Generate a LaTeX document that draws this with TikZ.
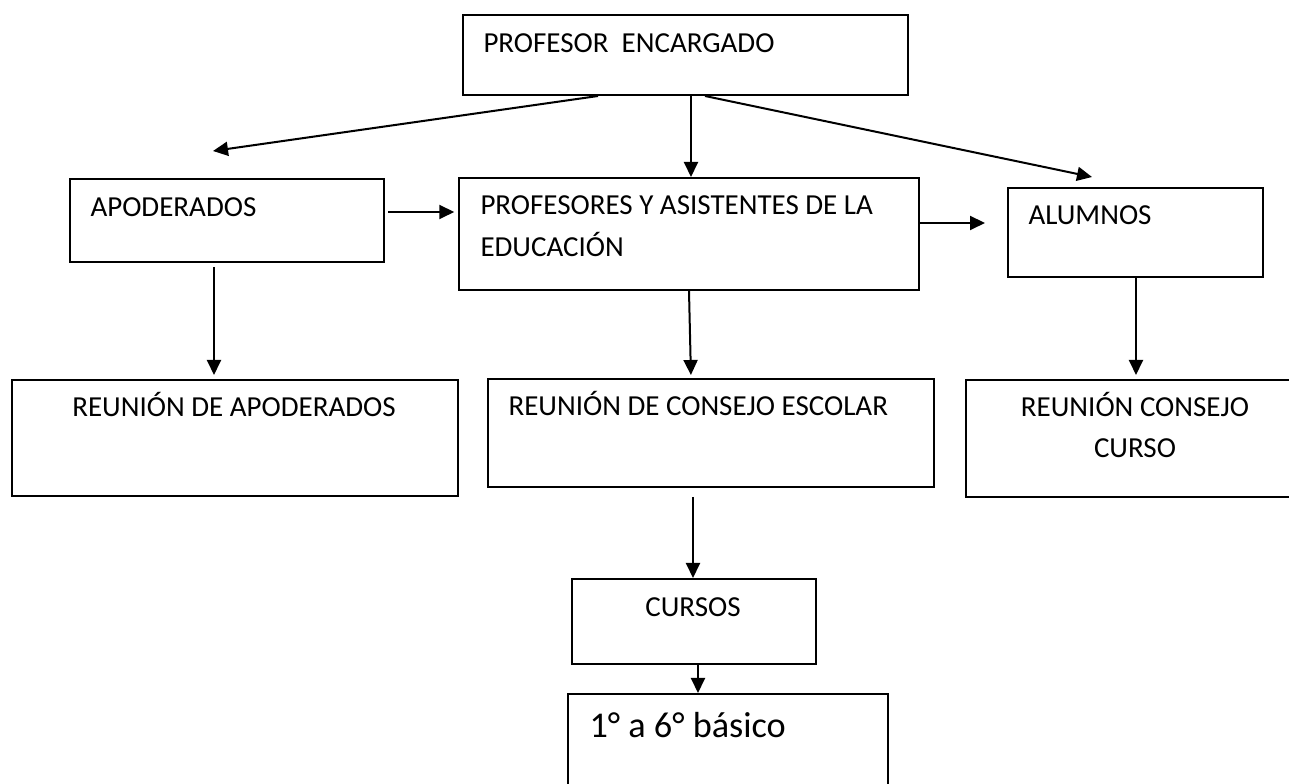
\documentclass[tikz,border=0pt]{standalone}
\usepackage{fontspec}
\setmainfont{Carlito}
\usetikzlibrary{arrows.meta}
\usetikzlibrary{positioning}

\tikzset{
    box/.style={draw, line width=0.8pt, anchor=north west, inner sep=0pt},
    txt/.style={anchor=base west, inner sep=0pt, font=\fontsize{11.6}{14}\selectfont},
    link/.style={line width=0.8pt, -{Triangle[length=6pt,width=5.6pt]}},
}

\begin{document}
\begin{tikzpicture}[x=0.4pt,y=-0.4pt]
    \clip (0,0) rectangle (1289,784);
    \fill[white] (0,0) rectangle (1289,784);
    % boxes
    \node[box, minimum width=178pt, minimum height=32pt] (enc) at (462,14) {};
    \node[box, minimum width=125.6pt, minimum height=33.2pt] (apo) at (69,178) {};
    \node[box, minimum width=184pt, minimum height=44.8pt] (prof) at (458,177) {};
    \node[box, minimum width=102pt, minimum height=35.6pt] (alu) at (1007,187) {};
    \node[box, minimum width=178.4pt, minimum height=46.4pt] (rapo) at (11,379) {};
    \node[box, minimum width=178.4pt, minimum height=43.2pt] (resc) at (487,378) {};
    \node[box, minimum width=136pt, minimum height=46.8pt] (rcur) at (965,379) {};
    \node[box, minimum width=97.6pt, minimum height=34pt] (cur) at (571,578) {};
    \node[box, minimum width=128pt, minimum height=48pt] (bas) at (567,693) {};
    % texts
    \node[txt] (tEnc) at (483,53) {PROFESOR~ ENCARGADO};
    \node[txt] (tApo) at (90,217) {APODERADOS};
    \node[txt] (tProf1) at (480,215) {PROFESORES Y ASISTENTES DE LA};
    \node[txt] (tProf2) at (480,257) {EDUCACIÓN};
    \node[txt] (tAlu) at (1028,225) {ALUMNOS};
    \node[txt, anchor=base] (tRapo) at (234,417) {REUNIÓN DE APODERADOS};
    \node[txt] (tResc) at (508,416) {REUNIÓN DE CONSEJO ESCOLAR};
    \node[txt, anchor=base] (tRcur1) at (1135,417) {REUNIÓN CONSEJO};
    \node[txt, anchor=base] (tRcur2) at (1135,458) {CURSO};
    \node[txt, anchor=base] (tCur) at (693,617) {CURSOS};
    \node[txt, font=\fontsize{14.5}{17}\selectfont] (tBas) at (589,738) {1° a 6° básico};
    % arrows
    \coordinate (tipApo) at (213,151);
    \coordinate (tipAlu) at (1092,177);
    \draw[link] (598,0 |- enc.south) -- (tipApo);
    \draw[link] (691,0 |- enc.south) -- (691,0 |- prof.north);
    \draw[link] (705,0 |- enc.south) -- (tipAlu);
    \draw[link, shorten <=1.2pt, shorten >=1.5pt] (apo.east |- 0,212) -- (prof.west |- 0,212);
    \draw[link, shorten >=8.8pt] (prof.east |- 0,223) -- (alu.west |- 0,223);
    \draw[link, shorten <=1.6pt, shorten >=1.6pt] (214,0 |- apo.south) -- (214,0 |- rapo.north);
    \draw[link, shorten >=1.2pt] (689,0 |- prof.south) -- (691,0 |- resc.north);
    \draw[link, shorten >=1.6pt] (1136,0 |- alu.south) -- (1136,0 |- rcur.north);
    \draw[link, shorten <=3.6pt] (693,0 |- resc.south) -- (693,0 |- cur.north);
    \draw[link] (698,0 |- cur.south) -- (698,0 |- bas.north);
\end{tikzpicture}
\end{document}
